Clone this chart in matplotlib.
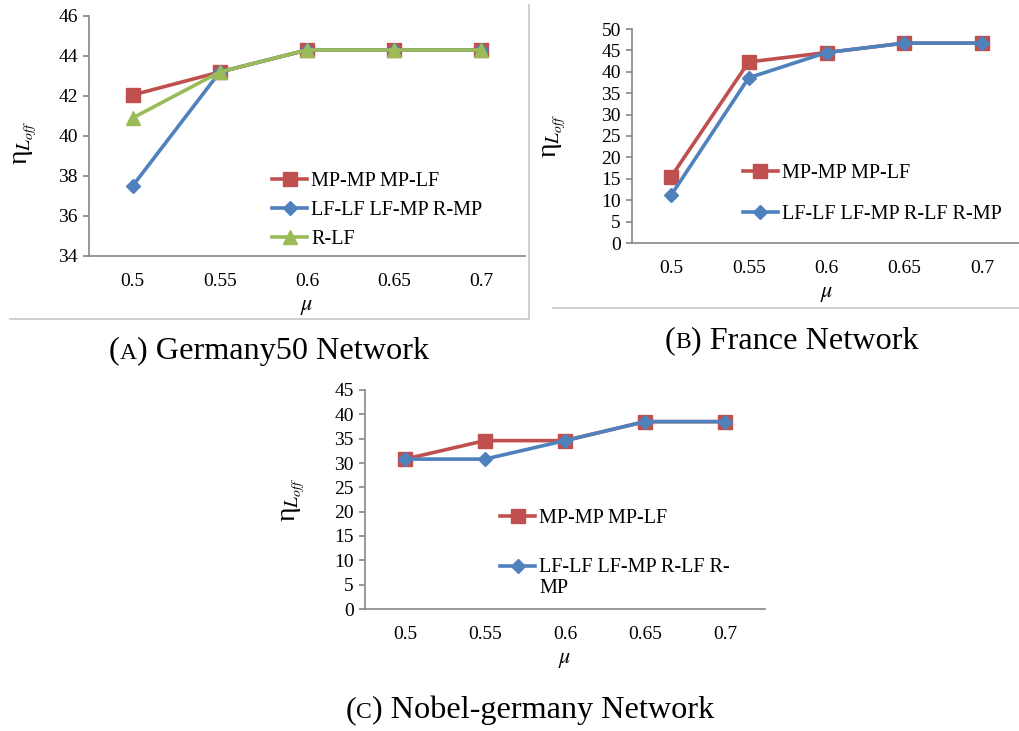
import matplotlib
matplotlib.use("Agg")
import matplotlib.pyplot as plt
from matplotlib.lines import Line2D
from matplotlib.legend_handler import HandlerLine2D
from matplotlib.offsetbox import TextArea, HPacker, AnnotationBbox

plt.rcParams['font.family'] = ['Liberation Serif', 'DejaVu Serif']
plt.rcParams['mathtext.fontset'] = 'stix'

# shared x categories
mu = ['0.5', '0.55', '0.6', '0.65', '0.7']

# (A) Germany50
a_mp = [42.05, 43.2, 44.3, 44.3, 44.3]
a_lf = [37.5, 43.2, 44.3, 44.3, 44.3]
a_rlf = [40.9, 43.2, 44.3, 44.3, 44.3]
a_names = ['MP-MP MP-LF', 'LF-LF LF-MP R-MP', 'R-LF']

# (B) France
b_mp = [15.4, 42.3, 44.5, 46.7, 46.7]
b_lf = [11.1, 38.6, 44.5, 46.7, 46.7]
b_names = ['MP-MP MP-LF', 'LF-LF LF-MP R-LF R-MP']

# (C) Nobel-germany
c_mp = [30.8, 34.6, 34.6, 38.5, 38.5]
c_lf = [30.8, 30.8, 34.6, 38.5, 38.5]
c_names = ['MP-MP MP-LF', 'LF-LF LF-MP R-LF R-\nMP']

RED, BLUE, GREEN = '#C0504D', '#4F81BD', '#9BBB59'
AXIS = '#868686'
FRAME = '#c8c8c8'
LEG_FS = 14.5

W, H = 1019, 731
fig = plt.figure(figsize=(W / 100, H / 100), dpi=100)


class RaisedHandler(HandlerLine2D):
    # lifts the legend handle so it sits on the first line of a wrapped label
    def __init__(self, lift, **kw):
        super().__init__(**kw)
        self.lift = lift

    def create_artists(self, legend, orig_handle, xdescent, ydescent, width,
                       height, fontsize, trans):
        return super().create_artists(legend, orig_handle, xdescent,
                                      ydescent - 2 * self.lift * fontsize,
                                      width, height, fontsize, trans)


def px_axes(left, top, right, bottom):
    return fig.add_axes([left / W, 1 - bottom / H, (right - left) / W, (bottom - top) / H])


def style(ax, ylim, yticks):
    x = range(len(mu))
    ax.set_xlim(-0.5, len(mu) - 0.5)
    ax.set_xticks(list(x))
    ax.set_xticklabels(mu)
    ax.set_ylim(*ylim)
    ax.set_yticks(yticks)
    for s in ['top', 'right']:
        ax.spines[s].set_visible(False)
    for s in ['left', 'bottom']:
        ax.spines[s].set_color(AXIS)
        ax.spines[s].set_linewidth(1.2)
    ax.tick_params(axis='y', length=4, width=1.2, color=AXIS, labelsize=14, pad=4)
    ax.tick_params(axis='x', length=0, labelsize=14, pad=12)
    ax.set_xlabel(r'$\mu$', fontsize=16, labelpad=6)
    ax.set_ylabel('η$_{L_{off}}$', fontsize=20)
    ax.patch.set_alpha(0)


def draw(ax, series):
    x = range(len(mu))
    lines = []
    for vals, name, color, marker, ms in series:
        ln, = ax.plot(x, vals, color=color, lw=2.6, marker=marker, ms=ms, label=name,
                      clip_on=False, zorder=3)
        lines.append(ln)
    return lines


def legend(ax, anchor, spacing, handler_map=None):
    ax.legend(loc='center left', bbox_to_anchor=anchor, frameon=False,
              fontsize=LEG_FS, handlelength=1.75, handletextpad=0.2,
              labelspacing=spacing, borderpad=0, borderaxespad=0,
              handler_map=handler_map)


def caption(letter, rest, x, y):
    parts = [
        TextArea('(', textprops=dict(fontsize=23.2)),
        TextArea(letter, textprops=dict(fontsize=17)),
        TextArea(') ' + rest, textprops=dict(fontsize=23.2)),
    ]
    box = HPacker(children=parts, align='baseline', pad=0, sep=0)
    ab = AnnotationBbox(box, (x / W, 1 - y / H), xycoords='figure fraction',
                        frameon=False, box_alignment=(0.5, 0.5))
    fig.add_artist(ab)


def frame_line(xs, ys):
    fig.add_artist(Line2D([v / W for v in xs], [1 - v / H for v in ys],
                          transform=fig.transFigure, color=FRAME, lw=1.2))


# panel A
axA = px_axes(89, 16, 525, 256)
style(axA, (34, 46), range(34, 47, 2))
draw(axA, [(a_mp, a_names[0], RED, 's', 10),
           (a_lf, a_names[1], BLUE, 'D', 7),
           (a_rlf, a_names[2], GREEN, '^', 10)])
axA.yaxis.set_label_coords(-0.115, 0.47)
legend(axA, (0.42, 0.19), 0.5)

# panel B
axB = px_axes(632, 29, 1021, 243)
style(axB, (0, 50), range(0, 51, 5))
draw(axB, [(b_mp, b_names[0], RED, 's', 10),
           (b_lf, b_names[1], BLUE, 'D', 7)])
axB.yaxis.set_label_coords(-0.165, 0.5)
legend(axB, (0.285, 0.229), 1.12)

# panel C
axC = px_axes(365, 390, 765, 609)
style(axC, (0, 45), range(0, 46, 5))
lnC = draw(axC, [(c_mp, c_names[0], RED, 's', 10),
                 (c_lf, c_names[1], BLUE, 'D', 7)])
axC.yaxis.set_label_coords(-0.145, 0.5)
legend(axC, (0.3375, 0.252), 1.45, handler_map={lnC[1]: RaisedHandler(0.6)})

# chart-area borders left over from the source layout
frame_line([10, 529, 529], [319, 319, 5])
frame_line([553, 1019], [308, 308])

caption('A', 'Germany50 Network', 269, 351)
caption('B', 'France Network', 792, 341)
caption('C', 'Nobel-germany Network', 530, 710)

fig.savefig('out.png', dpi=100)
